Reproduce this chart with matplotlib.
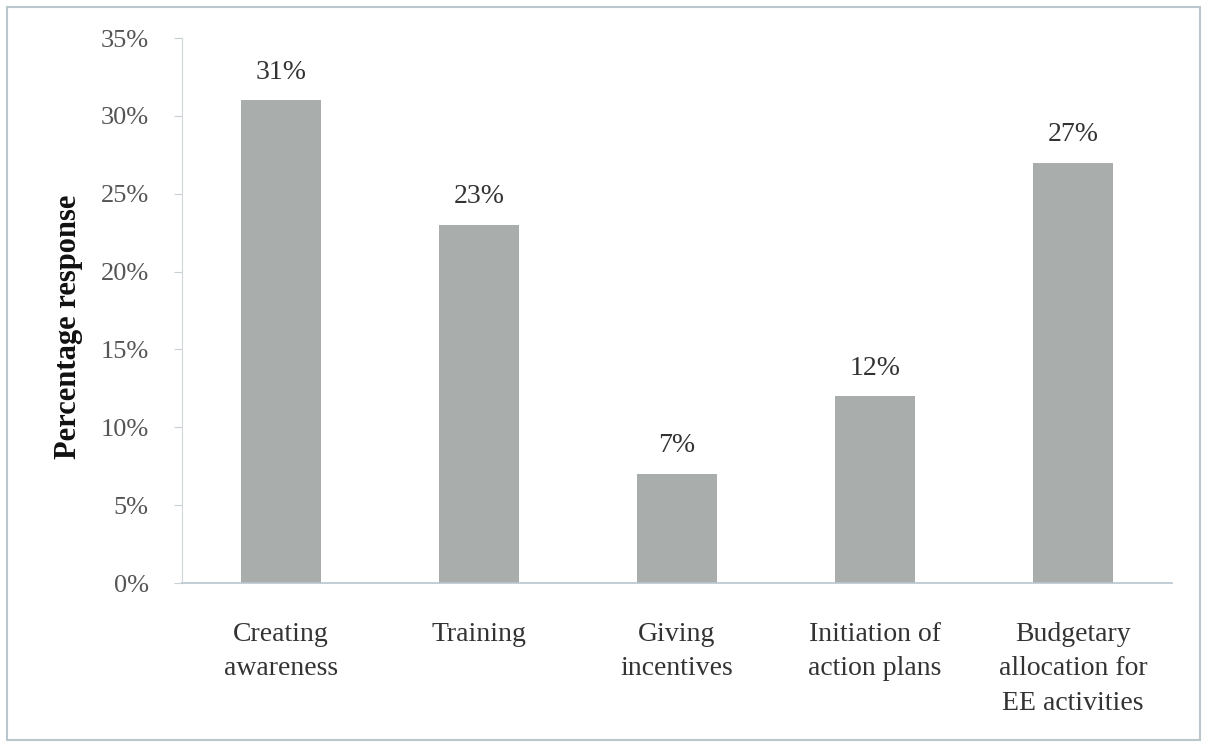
import matplotlib.pyplot as plt
from matplotlib.patches import Rectangle

# data
categories = ["Creating\nawareness", "Training", "Giving\nincentives",
              "Initiation of\naction plans", "Budgetary\nallocation for\nEE activities"]
values = [31, 23, 7, 12, 27]
yticks = [0, 5, 10, 15, 20, 25, 30, 35]

plt.rcParams["font.family"] = ["Liberation Serif", "DejaVu Serif"]
text_col = "#333333"

fig = plt.figure(figsize=(12.07, 7.47), dpi=100)
ax = fig.add_axes([0.1508, 0.2195, 0.8202, 0.7295])

x = range(len(values))
ax.bar(x, values, width=0.4, color="#a9adac")

for xi, v in zip(x, values):
    ax.text(xi, v + 1.0, f"{v}%", ha="center", va="bottom",
            fontsize=20, color=text_col)

ax.set_xlim(-0.5, 4.5)
ax.set_ylim(0, 35)
ax.set_yticks(yticks)
ax.set_yticklabels([f"{t}%" for t in yticks], fontsize=19, color="#555555")
ax.set_xticks(list(x))
ax.set_xticklabels(categories, fontsize=20, color=text_col, linespacing=1.5)
ax.tick_params(axis="x", length=0, pad=28)
ax.tick_params(axis="y", length=6, color="#c8d0d4", pad=18)

ax.set_ylabel("Percentage response", fontsize=22, fontweight="bold", color="#111111")
ax.yaxis.set_label_coords(-0.100, 0.47)

ax.spines["top"].set_visible(False)
ax.spines["right"].set_visible(False)
ax.spines["left"].set_color("#d0d8dc")
ax.spines["bottom"].set_color("#b8c6cc")
ax.spines["bottom"].set_linewidth(1.2)

# frame around the whole chart
fig.patches.append(Rectangle((0.006, 0.009), 0.988, 0.982, transform=fig.transFigure,
                             fill=False, edgecolor="#b9c6cc", linewidth=1.5))

plt.savefig("out.png", dpi=100)
